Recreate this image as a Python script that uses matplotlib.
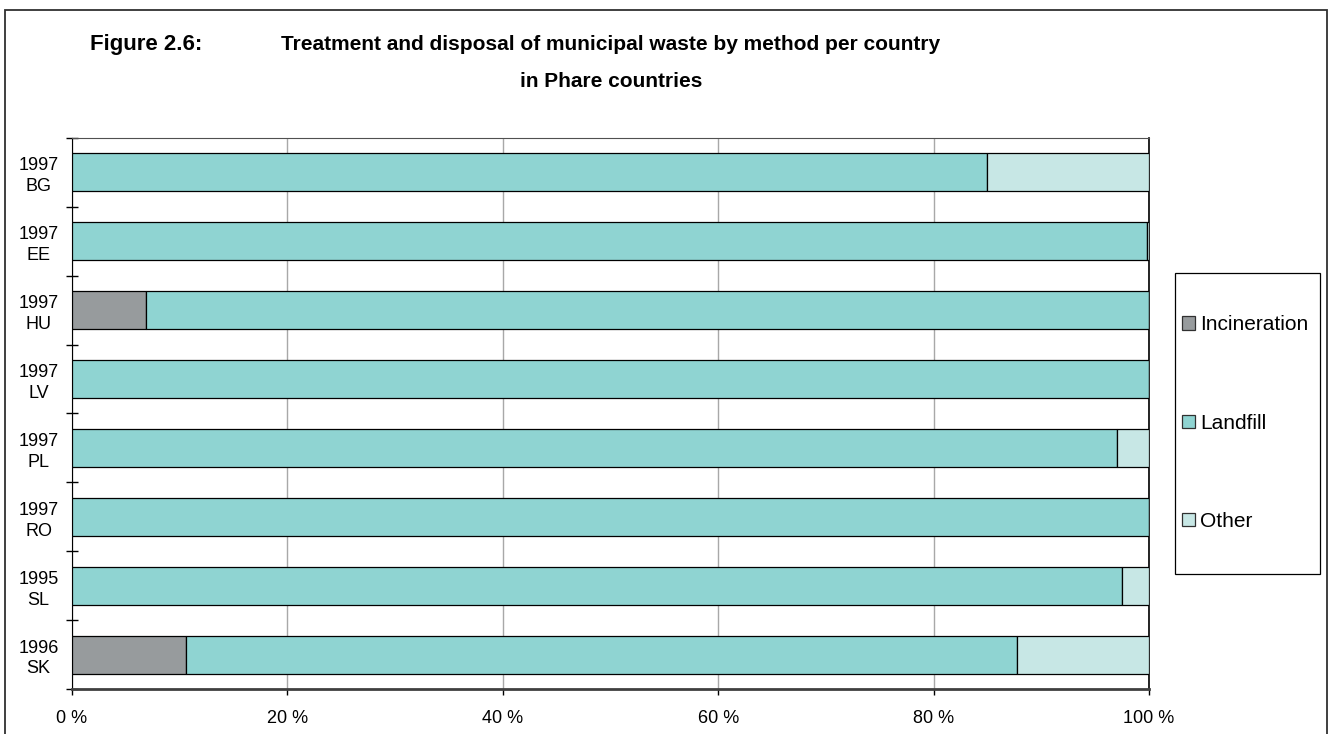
import numpy as np
import matplotlib
matplotlib.use("Agg")
import matplotlib.pyplot as plt
from matplotlib.patches import Rectangle

plt.rcParams["font.family"] = ["Liberation Sans", "DejaVu Sans"]

# Data (% of municipal waste)
labels = ["1997\nBG", "1997\nEE", "1997\nHU", "1997\nLV", "1997\nPL", "1997\nRO", "1995\nSL", "1996\nSK"]
incineration = [0.0, 0.0, 6.9, 0.0, 0.0, 0.0, 0.0, 10.6]
landfill = [85.0, 99.8, 93.1, 100.0, 97.0, 100.0, 97.5, 77.1]
other = [15.0, 0.2, 0.0, 0.0, 3.0, 0.0, 2.5, 12.3]

series = [("Incineration", incineration, "#979b9d"),
          ("Landfill", landfill, "#8fd4d2"),
          ("Other", other, "#c7e7e5")]

fig = plt.figure(figsize=(13.32, 7.34), dpi=100)
ax = fig.add_axes([0.054, 0.0613, 0.8086, 0.7507])

y = np.arange(len(labels))
left = np.zeros(len(labels))
for name, vals, col in series:
    vals = np.array(vals)
    ax.barh(y, vals, left=left, height=0.55, color=col, edgecolor="black",
            linewidth=0.9, label=name, zorder=3)
    left += vals

ax.set_xlim(0, 100)
ax.set_ylim(len(labels) - 0.5, -0.5)

ax.set_xticks(np.arange(0, 101, 20))
ax.set_xticklabels([f"{v} %" for v in range(0, 101, 20)], fontsize=13)
ax.set_yticks(y)
ax.set_yticklabels(labels, fontsize=13, ha="center", linespacing=1.3)
ax.set_yticks(np.arange(-0.5, len(labels), 1), minor=True)
ax.tick_params(axis="y", which="major", length=0, pad=24)
ax.tick_params(axis="y", which="minor", length=8, direction="inout", width=1)
ax.tick_params(axis="x", which="major", length=4, direction="out", pad=11, width=1)

ax.grid(axis="x", color="#a8a8a8", linewidth=1, zorder=0)
ax.spines["left"].set_color("black")
ax.spines["bottom"].set_color("#404040")
ax.spines["bottom"].set_linewidth(2)
ax.spines["top"].set_color("#505050")
ax.spines["top"].set_linewidth(0.8)
ax.spines["right"].set_color("black")
ax.spines["right"].set_linewidth(1.2)

# Legend (frame drawn separately to get the tall box)
fig.patches.append(Rectangle((1175 / 1332, 1 - 574 / 734), 145 / 1332, 301 / 734,
                             transform=fig.transFigure, fill=False,
                             edgecolor="black", linewidth=0.9))
leg = fig.legend(loc="center left", bbox_to_anchor=(0.8875, 0.4237), fontsize=15,
                 frameon=False, borderpad=0, labelspacing=3.8,
                 handlelength=0.6, handleheight=0.6,
                 handletextpad=0.25, borderaxespad=0)
for h in leg.legend_handles:
    h.set_edgecolor("#303030")

# Titles
fig.text(0.0676, 0.940, "Figure 2.6:", fontsize=16, fontweight="bold", va="center", ha="left")
fig.text(0.4587, 0.940, "Treatment and disposal of municipal waste by method per country",
         fontsize=15, fontweight="bold", va="center", ha="center")
fig.text(0.4587, 0.889, "in Phare countries", fontsize=15, fontweight="bold",
         va="center", ha="center")

# Outer frame
fig.patches.append(Rectangle((5 / 1332, -0.1), 1322 / 1332, 1.1 - 10 / 734,
                             transform=fig.transFigure, fill=False,
                             edgecolor="#303030", linewidth=1.3, clip_on=False))

fig.savefig("out.png", dpi=100)
plt.close(fig)
